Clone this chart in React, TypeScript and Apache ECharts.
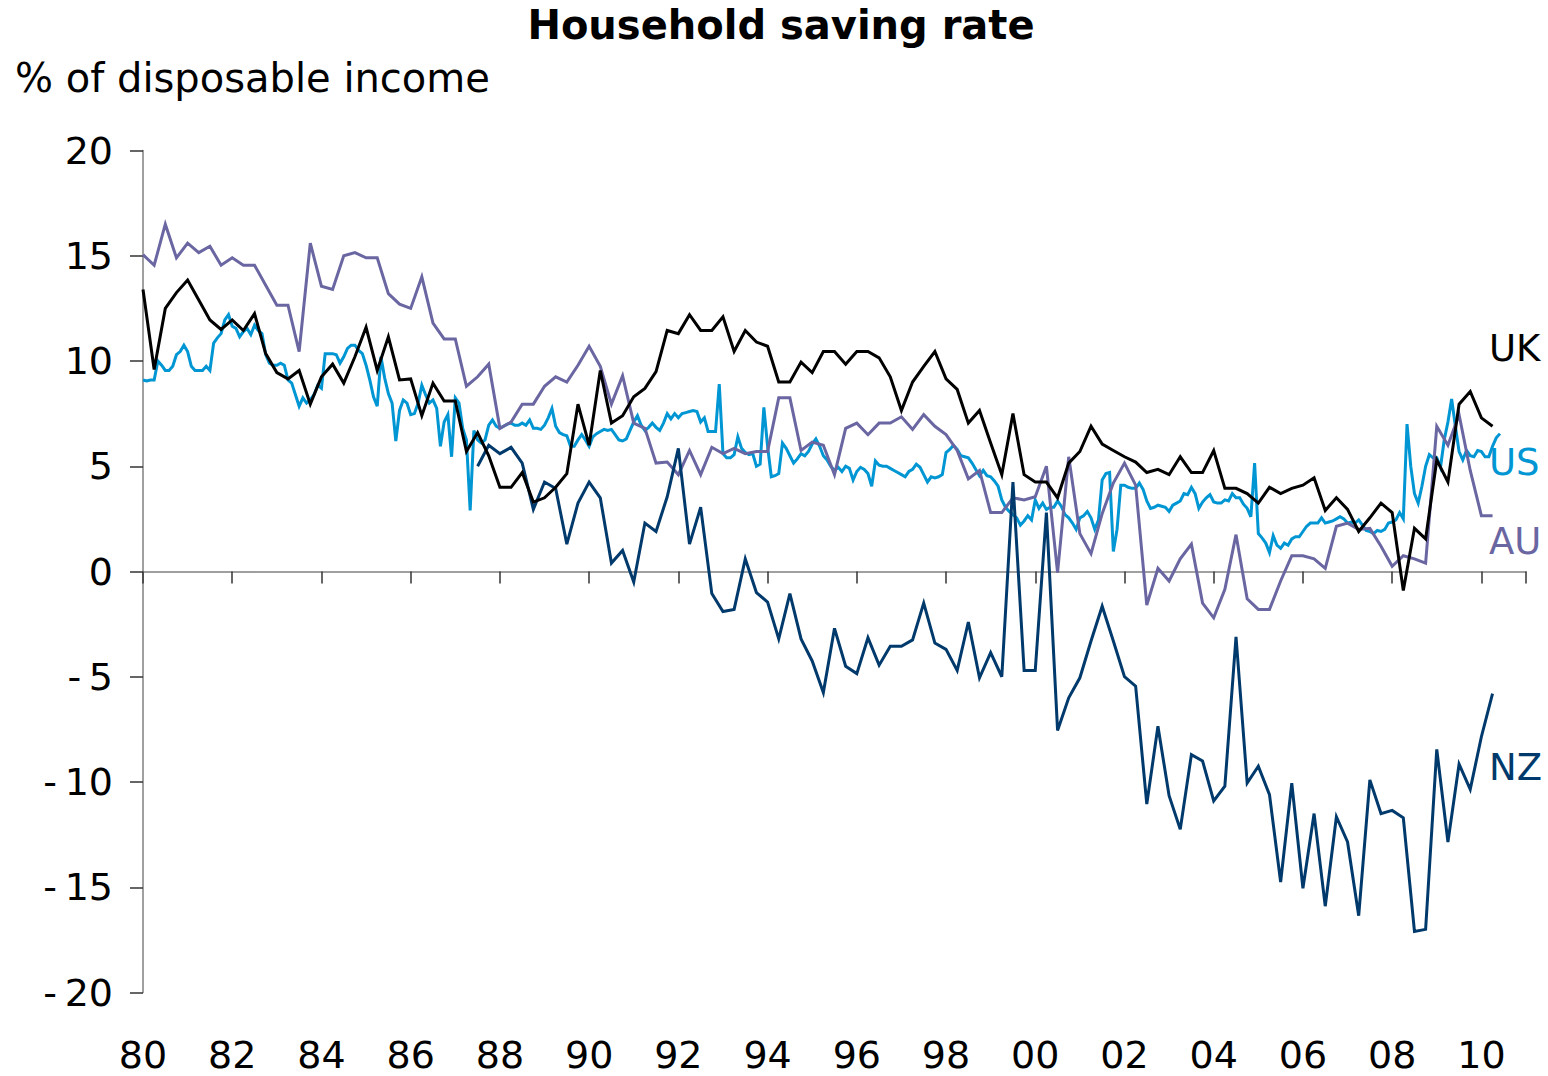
import React, { useEffect, useRef } from "react";
import * as echarts from "echarts";

// ---- axes ----
const X_MIN = 1980;
const X_MAX = 2011;
const X_STEP = 2;
const Y_MIN = -20;
const Y_MAX = 20;
const Y_STEP = 5;

const TITLE = "Household saving rate";
const SUBTITLE = "% of disposable income";

// ---- series (UK, AU, NZ quarterly; US monthly) ----
const UK_START = 1980;
const UK = [
  13.4, 9.6, 12.5, 13.25, 13.85, 12.9, 11.95, 11.5, 11.95, 11.45,
  12.25, 10.35, 9.45, 9.15, 9.55, 7.95, 9.25, 9.85, 8.95, 10.2,
  11.6, 9.55, 11.15, 9.1, 9.15, 7.4, 8.95, 8.1, 8.1, 5.7,
  6.6, 5.5, 4.0, 4.0, 4.7, 3.3, 3.5, 4.0, 4.65, 7.95,
  6.0, 9.55, 7.05, 7.4, 8.3, 8.7, 9.5, 11.45, 11.3, 12.2,
  11.45, 11.45, 12.1, 10.45, 11.45, 10.9, 10.7, 9.0, 9.0, 9.95,
  9.45, 10.45, 10.45, 9.85, 10.45, 10.45, 10.15, 9.25, 7.65, 9.0,
  9.75, 10.45, 9.15, 8.65, 7.05, 7.65, 6.1, 4.6, 7.5, 4.6,
  4.25, 4.25, 3.5, 5.15, 5.7, 6.9, 6.05, 5.75, 5.45, 5.2,
  4.7, 4.85, 4.6, 5.45, 4.7, 4.7, 5.75, 3.95, 3.95, 3.7,
  3.25, 4.0, 3.7, 3.95, 4.1, 4.45, 2.9, 3.5, 2.95, 1.9,
  2.55, 3.25, 2.8, -0.9, 2.05, 1.55, 5.3, 4.25, 7.95, 8.55, 7.3, 6.9,
];

const AU_START = 1980;
const AU = [
  15.05, 14.55, 16.5, 14.9, 15.6, 15.15, 15.45, 14.55, 14.9, 14.55,
  14.55, 13.6, 12.65, 12.65, 10.45, 15.6, 13.55, 13.4, 15.0, 15.15,
  14.9, 14.9, 13.2, 12.7, 12.5, 14.0, 11.8, 11.05, 11.05, 8.8,
  9.25, 9.85, 6.8, 7.1, 7.95, 7.95, 8.8, 9.25, 9.0, 9.8,
  10.7, 9.75, 7.95, 9.3, 7.05, 6.8, 5.15, 5.2, 4.6, 5.75,
  4.6, 5.9, 5.6, 5.85, 5.6, 5.7, 5.7, 8.25, 8.25, 5.75,
  6.15, 6.0, 4.6, 6.8, 7.05, 6.5, 7.05, 7.05, 7.35, 6.75,
  7.45, 6.9, 6.5, 5.75, 4.4, 4.8, 2.8, 2.8, 3.5, 3.4,
  3.55, 5.0, -0.05, 5.45, 1.8, 0.85, 2.75, 4.2, 5.15, 4.1,
  -1.6, 0.15, -0.45, 0.6, 1.3, -1.5, -2.2, -0.85, 1.75, -1.3,
  -1.8, -1.8, -0.45, 0.75, 0.75, 0.6, 0.15, 2.15, 2.3, 2.0,
  2.05, 1.2, 0.25, 0.75, 0.6, 0.4, 6.9, 6.0, 7.45, 4.8, 2.65, 2.65,
];

const NZ_START = 1987.5;
const NZ = [
  5.0, 6.0, 5.6, 5.9, 5.15, 2.95, 4.25, 3.95, 1.3, 3.25,
  4.25, 3.5, 0.4, 1.0, -0.5, 2.3, 1.9, 3.55, 5.85, 1.3,
  3.05, -1.05, -1.9, -1.8, 0.6, -1.0, -1.45, -3.2, -1.05, -3.2,
  -4.25, -5.75, -2.7, -4.5, -4.85, -3.15, -4.45, -3.55, -3.55, -3.25,
  -1.5, -3.4, -3.7, -4.7, -2.4, -5.05, -3.85, -5.0, 4.25, -4.7,
  -4.7, 2.8, -7.55, -6.0, -5.05, -3.3, -1.65, -3.3, -5.0, -5.45,
  -11.05, -7.35, -10.65, -12.25, -8.7, -9.0, -10.9, -10.2, -3.1, -10.05,
  -9.25, -10.6, -14.75, -10.05, -15.05, -11.5, -15.9, -11.65, -12.85, -16.35,
  -9.9, -11.5, -11.35, -11.7, -17.1, -17.0, -8.45, -12.85, -9.15, -10.35, -7.85, -5.8,
];

const US_START = 1980;
const US = [
  9.1, 9.05, 9.1, 9.1, 10.0, 9.8, 9.55, 9.55, 9.75, 10.3,
  10.45, 10.75, 10.45, 9.75, 9.55, 9.55, 9.55, 9.75, 9.55, 10.85,
  11.1, 11.3, 11.95, 12.2, 11.65, 11.55, 11.15, 11.4, 11.55, 11.25,
  11.7, 11.45, 11.3, 10.3, 9.9, 9.8, 9.8, 9.9, 9.8, 9.1,
  8.95, 8.4, 7.85, 8.25, 8.0, 8.15, 8.4, 8.85, 8.7, 10.35,
  10.35, 10.35, 10.3, 9.9, 10.2, 10.6, 10.75, 10.75, 10.5, 10.35,
  9.8, 9.1, 8.3, 7.85, 10.2, 9.2, 8.45, 8.0, 6.2, 7.65,
  8.15, 8.0, 7.45, 7.5, 8.0, 8.85, 8.4, 8.0, 8.15, 7.75,
  5.95, 7.1, 7.45, 5.45, 8.25, 8.0, 6.8, 6.25, 2.9, 6.7,
  6.25, 6.1, 6.25, 6.95, 7.2, 6.9, 6.8, 6.9, 7.0, 7.05,
  6.95, 6.95, 7.05, 6.95, 7.2, 6.8, 6.8, 6.75, 6.95, 7.3,
  7.75, 6.9, 6.6, 6.5, 6.45, 5.95, 5.95, 6.25, 6.5, 6.25,
  5.95, 6.4, 6.55, 6.65, 6.75, 6.7, 6.75, 6.5, 6.25, 6.2,
  6.3, 6.7, 7.1, 7.4, 6.95, 6.7, 6.85, 7.05, 6.85, 6.7,
  7.05, 7.5, 7.25, 7.5, 7.3, 7.5, 7.55, 7.6, 7.65, 7.6,
  7.1, 7.3, 6.65, 6.65, 6.65, 8.9, 5.6, 5.4, 5.4, 5.55,
  6.4, 5.85, 5.65, 5.55, 5.6, 5.0, 5.1, 7.8, 5.95, 4.5,
  4.55, 4.65, 6.1, 5.85, 5.5, 5.15, 5.35, 5.6, 5.5, 5.7,
  6.05, 6.3, 5.95, 5.5, 5.3, 5.0, 4.8, 4.95, 4.75, 5.0,
  4.9, 4.35, 4.75, 4.95, 4.85, 4.65, 4.05, 5.25, 5.05, 5.0,
  5.0, 4.9, 4.8, 4.7, 4.6, 4.5, 4.75, 4.85, 5.1, 4.95,
  4.6, 4.25, 4.5, 4.45, 4.5, 4.6, 5.65, 5.8, 6.0, 5.8,
  5.5, 5.45, 5.4, 5.15, 4.85, 4.55, 4.8, 4.55, 4.5, 4.3,
  4.05, 3.4, 3.05, 2.85, 2.7, 2.55, 2.2, 2.4, 2.65, 2.45,
  3.4, 3.0, 3.25, 2.95, 3.05, 3.05, 3.35, 3.1, 2.7, 2.55,
  2.3, 2.0, 2.55, 2.65, 2.85, 2.55, 2.0, 2.45, 4.35, 4.65,
  4.7, 0.95, 2.0, 4.1, 4.1, 4.0, 3.95, 3.95, 4.2, 3.9,
  3.35, 3.0, 3.05, 3.15, 3.1, 3.05, 2.85, 3.15, 3.25, 3.35,
  3.7, 3.65, 4.0, 3.7, 3.0, 3.3, 3.5, 3.65, 3.3, 3.25,
  3.25, 3.4, 3.35, 3.7, 3.5, 3.5, 3.2, 3.0, 2.6, 5.15,
  1.8, 1.6, 1.35, 0.9, 1.7, 1.25, 1.1, 1.35, 1.25, 1.55,
  1.65, 1.65, 1.9, 2.15, 2.3, 2.3, 2.3, 2.55, 2.3, 2.35,
  2.4, 2.5, 2.6, 2.5, 2.3, 2.35, 2.3, 2.45, 2.2, 1.95,
  1.9, 1.8, 1.95, 1.9, 2.0, 2.3, 2.35, 2.45, 2.8, 2.5,
  7.0, 5.0, 3.7, 3.25, 4.05, 5.0, 5.55, 5.4, 5.4, 4.95,
  6.25, 7.1, 8.2, 6.9, 5.7, 5.3, 5.75, 5.5, 5.45, 5.75,
  5.7, 5.45, 5.45, 5.95, 6.35, 6.55,
];

const SERIES_NAMES = ["UK", "US", "AU", "NZ"];
const COLORS: Record<string, string> = {
  UK: "#000000",
  US: "#0096D3",
  AU: "#6A66A2",
  NZ: "#003A6C",
};

const FONT = "'DejaVu Sans', Verdana, sans-serif";

function quarterly(start: number, vals: number[]) {
  return vals.map((v, i) => [start + i * 0.25, v]);
}
function monthly(start: number, vals: number[]) {
  return vals.map((v, i) => [start + i / 12, v]);
}

export default function App() {
  const ref = useRef<HTMLDivElement>(null);

  useEffect(() => {
    if (!ref.current) return;
    const chart = echarts.init(ref.current, null, { renderer: "svg" });

    const lineSeries = (name: string, data: number[][], z: number, width = 3) => ({
      name,
      type: "line",
      data,
      xAxisIndex: 0,
      yAxisIndex: 0,
      showSymbol: false,
      symbol: "none",
      silent: true,
      z,
      lineStyle: { color: COLORS[name], width, join: "miter" },
      itemStyle: { color: COLORS[name] },
    });

    const labelText = (name: string, x: number, y: number) => ({
      type: "text",
      x,
      y,
      silent: true,
      style: {
        text: name,
        fill: COLORS[name],
        fontSize: 37,
        fontFamily: FONT,
        align: "left",
        verticalAlign: "middle",
      },
    });

    chart.setOption({
      animation: false,
      backgroundColor: "#ffffff",
      grid: { left: 143, right: 22, top: 150.5, bottom: 83.5, containLabel: false },
      xAxis: [
        {
          type: "value",
          min: X_MIN,
          max: X_MAX,
          interval: X_STEP,
          axisLine: { show: true, onZero: true, lineStyle: { color: "#808080", width: 1.5 } },
          axisTick: { show: true, length: 12, inside: false, lineStyle: { color: "#333333", width: 1.5 } },
          axisLabel: { show: false },
          splitLine: { show: false },
        },
        {
          type: "value",
          position: "bottom",
          min: X_MIN,
          max: X_MAX,
          interval: X_STEP,
          axisLine: { show: false, onZero: false },
          axisTick: { show: false },
          splitLine: { show: false },
          axisLabel: {
            show: true,
            margin: 43,
            color: "#000000",
            fontSize: 38,
            fontFamily: FONT,
            formatter: (v: number) => String(Math.round(v) % 100).padStart(2, "0"),
          },
        },
      ],
      yAxis: {
        type: "value",
        min: Y_MIN,
        max: Y_MAX,
        interval: Y_STEP,
        axisLine: { show: true, onZero: false, lineStyle: { color: "#808080", width: 1.5 } },
        axisTick: { show: true, length: 13, lineStyle: { color: "#333333", width: 1.5 } },
        splitLine: { show: false },
        axisLabel: {
          margin: 30,
          color: "#000000",
          fontSize: 38,
          fontFamily: FONT,
          formatter: (v: number) => (v < 0 ? "-\u2009" + Math.abs(v) : String(v)),
        },
      },
      series: [
        lineSeries("US", monthly(US_START, US), 2, 3),
        lineSeries("AU", quarterly(AU_START, AU), 3),
        lineSeries("NZ", quarterly(NZ_START, NZ), 4),
        lineSeries("UK", quarterly(UK_START, UK), 5),
      ],
      graphic: [
        {
          type: "text",
          x: 781,
          y: 25,
          silent: true,
          style: {
            text: TITLE,
            fill: "#000000",
            fontSize: 40,
            fontWeight: "bold",
            fontFamily: FONT,
            align: "center",
            verticalAlign: "middle",
          },
        },
        {
          type: "text",
          x: 15,
          y: 78,
          silent: true,
          style: {
            text: SUBTITLE,
            fill: "#000000",
            fontSize: 40,
            fontFamily: FONT,
            align: "left",
            verticalAlign: "middle",
          },
        },
        labelText(SERIES_NAMES[0], 1489, 348),
        labelText(SERIES_NAMES[1], 1489, 462),
        labelText(SERIES_NAMES[2], 1489, 541),
        labelText(SERIES_NAMES[3], 1489, 767),
      ],
    });

    return () => chart.dispose();
  }, []);

  return (
    <div
      ref={ref}
      style={{ position: "fixed", left: 0, top: 0, width: 1548, height: 1076, background: "#ffffff" }}
    />
  );
}
